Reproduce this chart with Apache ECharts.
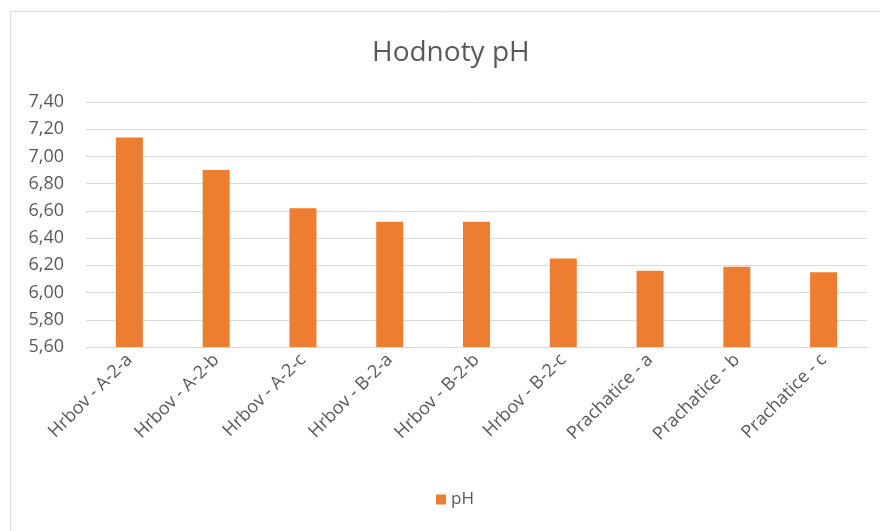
<!DOCTYPE html>
<html>
<head>
<meta charset="utf-8">
<script src="https://cdn.jsdelivr.net/npm/echarts@6/dist/echarts.min.js"></script>
<style>
  html, body { margin: 0; padding: 0; background: #fff; }
  #chart { width: 880px; height: 531px; }
</style>
</head>
<body>
<div id="chart"></div>
<script>
// data
const categories = [
  "Hrbov - A-2-a", "Hrbov - A-2-b", "Hrbov - A-2-c",
  "Hrbov - B-2-a", "Hrbov - B-2-b", "Hrbov - B-2-c",
  "Prachatice - a", "Prachatice - b", "Prachatice - c"
];
const phValues = [7.14, 6.90, 6.62, 6.52, 6.52, 6.25, 6.16, 6.19, 6.15];
const seriesName = "pH";
const titleText = "Hodnoty pH";

const chart = echarts.init(document.getElementById("chart"));
const font = "'Open Sans', 'Noto Sans', sans-serif";

chart.setOption({
  animation: false,
  // ramecek grafu
  graphic: [{
    type: "rect",
    shape: { x: 10.5, y: 11.5, width: 900, height: 600 },
    style: { fill: "none", stroke: "#d9d9d9", lineWidth: 1 },
    silent: true
  }],
  title: {
    text: titleText,
    left: 367,
    top: 34,
    textStyle: { color: "#595959", fontSize: 28, fontWeight: "normal", fontFamily: font }
  },
  legend: {
    bottom: 18,
    left: 431,
    itemWidth: 10,
    itemHeight: 10,
    itemGap: 6,
    icon: "rect",
    textStyle: { color: "#595959", fontSize: 17, fontFamily: font }
  },
  grid: { left: 86, right: 13, top: 102, bottom: 184 },
  xAxis: {
    type: "category",
    data: categories,
    axisLine: { lineStyle: { color: "#d9d9d9", width: 1 } },
    axisTick: { show: false },
    axisLabel: {
      rotate: 45,
      interval: 0,
      margin: 10,
      color: "#595959",
      fontSize: 18,
      fontFamily: font
    }
  },
  yAxis: {
    type: "value",
    min: 5.6,
    max: 7.4,
    interval: 0.2,
    axisLine: { show: false },
    axisTick: { show: false },
    splitLine: { lineStyle: { color: "#d9d9d9", width: 1 } },
    axisLabel: {
      color: "#595959",
      fontSize: 18,
      fontFamily: font,
      margin: 22,
      formatter: v => v.toFixed(2).replace(".", ",")
    }
  },
  series: [{
    name: seriesName,
    type: "bar",
    data: phValues,
    barWidth: 27,
    itemStyle: { color: "#ED7D31" }
  }]
});
</script>
</body>
</html>
